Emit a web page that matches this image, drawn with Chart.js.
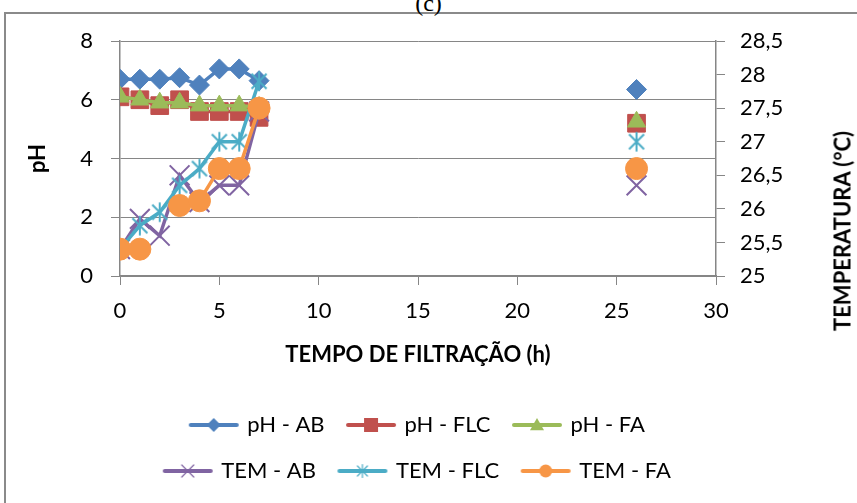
<!DOCTYPE html>
<html>
<head>
<meta charset="utf-8">
<script src="https://cdn.jsdelivr.net/npm/chart.js@4/dist/chart.umd.min.js"></script>
<style>
body { margin: 0; background: #fff; width: 857px; height: 503px; overflow: hidden; position: relative; font-family: Lato, sans-serif; }
#frame { position: absolute; left: 4px; top: 12px; width: 900px; height: 600px; border: 2px solid #8a8a8a; }
#cap { position: absolute; left: 0; width: 857px; top: -9px; line-height: 24px; text-align: center; font-family: "Liberation Serif", serif; font-size: 24px; color: #000; }
#tempTitle { position: absolute; left: 842px; top: 231px; transform: translate(-50%, -50%) rotate(-90deg); font: bold 22px Lato, sans-serif; white-space: nowrap; color: #000; }
#chart { position: absolute; left: 0; top: 0; }
</style>
</head>
<body>
<div id="frame"></div>
<div id="cap">(c)</div>
<canvas id="chart" width="857" height="503"></canvas>
<div id="tempTitle">TEMPERATURA (°C)</div>
<script>
/* pH e temperatura x tempo de filtração */
const tempo = [0, 1, 2, 3, 4, 5, 6, 7, 26];
const phAB = [6.7, 6.7, 6.7, 6.75, 6.5, 7.05, 7.05, 6.65, 6.35];
const phFLC = [6.1, 6.0, 5.8, 6.0, 5.6, 5.6, 5.6, 5.4, 5.2];
const phFA = [6.1, 6.0, 5.9, 5.9, 5.8, 5.8, 5.8, 5.75, 5.25];
const temAB = [25.4, 25.85, 25.6, 26.5, 26.1, 26.35, 26.35, 27.45, 26.35];
const temFLC = [25.4, 25.75, 25.95, 26.35, 26.6, 27.0, 27.0, 27.9, 27.0];
const temFA = [25.4, 25.4, null, 26.05, 26.12, 26.6, 26.6, 27.5, 26.6];
const seriesNames = ['pH - AB', 'pH - FLC', 'pH - FA', 'TEM - AB', 'TEM - FLC', 'TEM - FA'];
const colors = ['#4F81BD', '#C0504D', '#9BBB59', '#8064A2', '#4BACC6', '#F79646'];
const GREY = '#868686';
const FONT = 'Lato';

function drawMark(g, kind, x, y, s, color, lw) {
    g.fillStyle = color; g.strokeStyle = color; g.lineWidth = lw;
    g.beginPath();
    if (kind === 'diamond') { g.moveTo(x, y - s); g.lineTo(x + s, y); g.lineTo(x, y + s); g.lineTo(x - s, y); g.closePath(); g.fill(); }
    else if (kind === 'square') { g.rect(x - s, y - s, 2 * s, 2 * s); g.fill(); }
    else if (kind === 'triangle') { g.moveTo(x, y - s); g.lineTo(x + s, y + s * 0.75); g.lineTo(x - s, y + s * 0.75); g.closePath(); g.fill(); }
    else if (kind === 'circle') { g.arc(x, y, s, 0, Math.PI * 2); g.fill(); }
    else if (kind === 'x') { g.moveTo(x - s, y - s); g.lineTo(x + s, y + s); g.moveTo(x + s, y - s); g.lineTo(x - s, y + s); g.stroke(); }
    else if (kind === 'star') { g.moveTo(x, y - s * 1.3); g.lineTo(x, y + s * 1.3); g.moveTo(x - s, y - s); g.lineTo(x + s, y + s); g.moveTo(x + s, y - s); g.lineTo(x - s, y + s); g.stroke(); }
}

function asterisk(color) {
    const c = document.createElement('canvas');
    c.width = 24; c.height = 24;
    drawMark(c.getContext('2d'), 'star', 12, 12, 7.5, color, 2);
    return c;
}

const kinds = ['diamond', 'square', 'triangle', 'x', 'star', 'circle'];
function legendSymbol(i) {
    const c = document.createElement('canvas');
    c.width = 52; c.height = 22;
    const g = c.getContext('2d');
    g.strokeStyle = colors[i]; g.lineWidth = 4; g.lineCap = 'round';
    g.beginPath(); g.moveTo(3, 11); g.lineTo(49, 11); g.stroke();
    const size = { diamond: 7, square: 7, triangle: 7, x: 6, star: 5, circle: 6.5 }[kinds[i]];
    const lw = (kinds[i] === 'x' || kinds[i] === 'star') ? 1.2 : 1;
    drawMark(g, kinds[i], 26, 11, size, colors[i], lw);
    return c;
}

function pts(values) {
    return tempo.map((t, i) => ({ x: t, y: values[i] }));
}

const pointStyles = ['rectRot', 'rect', 'triangle', 'crossRot', asterisk(colors[4]), 'circle'];
const radii = [10, 12.5, 10.5, 14, 12, 11];
const allValues = [phAB, phFLC, phFA, temAB, temFLC, temFA];

const datasets = allValues.map((vals, i) => ({
    label: seriesNames[i],
    data: pts(vals),
    yAxisID: i < 3 ? 'y' : 'y2',
    borderColor: colors[i],
    backgroundColor: colors[i],
    borderWidth: 3.5,
    pointStyle: pointStyles[i],
    pointRadius: radii[i],
    pointBorderWidth: (i === 3) ? 2 : 1,
    pointBackgroundColor: colors[i],
    pointBorderColor: colors[i],
    tension: 0,
    spanGaps: false,
    order: 6 - i,
    segment: { borderColor: ctx => (ctx.p1.parsed.x - ctx.p0.parsed.x > 5 ? 'transparent' : colors[i]) }
}));

const legendSyms = colors.map((c, i) => legendSymbol(i));

new Chart(document.getElementById('chart'), {
    type: 'line',
    data: { datasets },
    options: {
        responsive: false, animation: false, devicePixelRatio: 1,
        layout: { padding: { top: 41, bottom: 11, left: 0, right: 0 } },
        scales: {
            x: {
                type: 'linear', min: 0, max: 30,
                ticks: { stepSize: 5, padding: 13, color: '#000', font: { family: FONT, size: 22 } },
                grid: { drawOnChartArea: false, tickLength: 9, color: GREY },
                border: { color: GREY, width: 1.5 },
                title: { display: true, text: 'TEMPO DE FILTRAÇÃO (h)', color: '#000', font: { family: FONT, size: 22, weight: 'bold' }, padding: { top: 0, bottom: 22 } },
                afterFit: s => { s.height = 114; }
            },
            y: {
                position: 'left', min: 0, max: 8,
                ticks: { stepSize: 2, padding: 18, color: '#000', font: { family: FONT, size: 22 } },
                grid: { color: GREY, tickLength: 9 },
                border: { color: GREY, width: 1.5 },
                title: { display: true, text: 'pH', color: '#000', font: { family: FONT, size: 22, weight: 'bold' }, padding: { top: 25, bottom: 0 } },
                afterFit: s => { s.width = 120; }
            },
            y2: {
                position: 'right', min: 25, max: 28.5,
                ticks: { stepSize: 0.5, padding: 15, color: '#000', font: { family: FONT, size: 22 }, callback: v => String(v).replace('.', ',') },
                grid: { drawOnChartArea: false, tickLength: 9, color: GREY },
                border: { color: GREY, width: 1.5 },
                afterFit: s => { s.width = 141; }
            }
        },
        plugins: {
            tooltip: { enabled: false },
            legend: {
                position: 'bottom', fullSize: false,
                labels: {
                    usePointStyle: true, pointStyleWidth: 45, padding: 24, color: '#000',
                    font: { family: FONT, size: 22 },
                    sort: (a, b) => a.datasetIndex - b.datasetIndex,
                    generateLabels: chart => Chart.defaults.plugins.legend.labels.generateLabels(chart)
                        .map(item => Object.assign(item, { pointStyle: legendSyms[item.datasetIndex] }))
                }
            }
        }
    }
});
</script>
</body>
</html>
